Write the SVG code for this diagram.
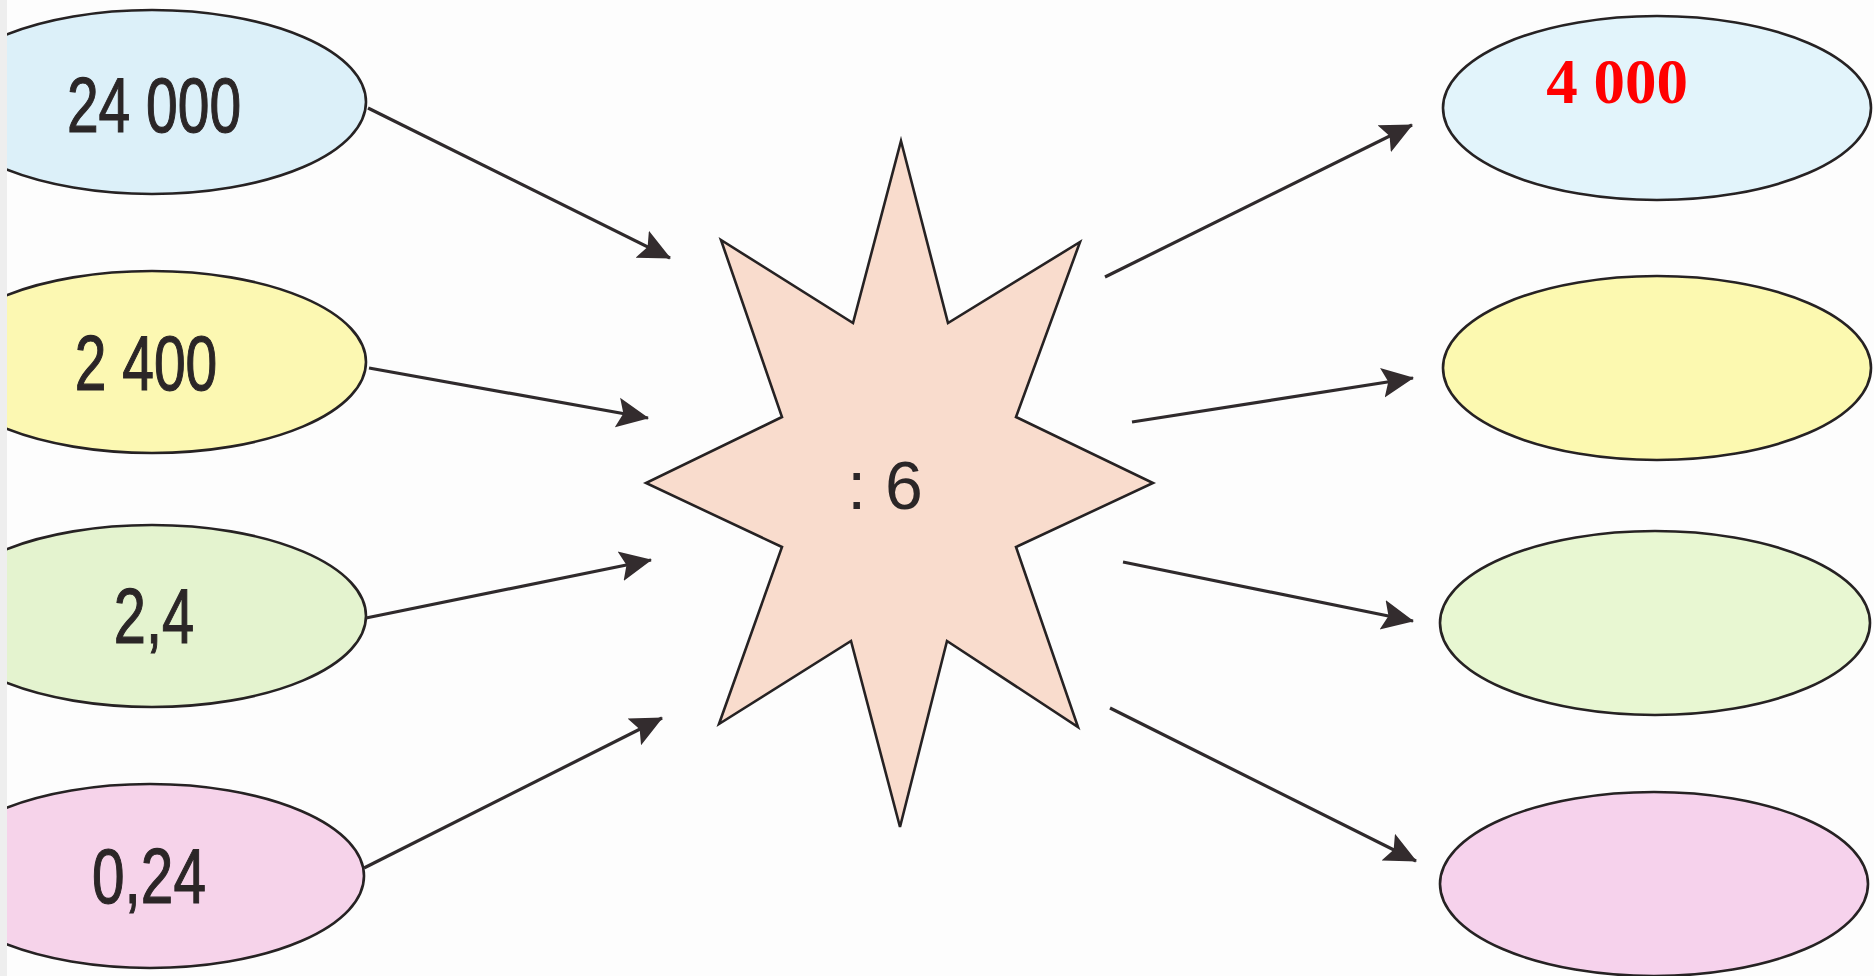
<svg xmlns="http://www.w3.org/2000/svg" width="1874" height="976" viewBox="0 0 1874 976">
<defs>
<style>
.ell{stroke:#262223;stroke-width:2.6}
.lbl{font-family:"Liberation Sans",Arial,sans-serif;font-size:77px;fill:#2b2627;stroke:#2b2627;stroke-width:1.2;text-anchor:middle}
.conn line{stroke:#2f2a2c;stroke-width:3.2;marker-end:url(#ah)}
</style>
<marker id="ah" markerUnits="userSpaceOnUse" markerWidth="32" markerHeight="32" viewBox="0 0 32 32" refX="31" refY="16" orient="auto">
<path d="M0,1 L32,16 L0,31 L6,16 Z" fill="#332c2e"/>
</marker>
<clipPath id="page"><rect x="7" y="0" width="1867" height="976"/></clipPath>
</defs>
<rect x="0" y="0" width="1874" height="976" fill="#fdfdfd"/>
<rect x="0" y="0" width="7" height="976" fill="#eeeeee"/>
<g clip-path="url(#page)">
<g id="in1"><ellipse class="ell" cx="152" cy="102" rx="214" ry="92" fill="#dcf0f9"/><text class="lbl" transform="translate(154,132) scale(0.74,1)">24 000</text></g>
<g id="in2"><ellipse class="ell" cx="152" cy="362" rx="214" ry="91" fill="#fcf8b2"/><text class="lbl" transform="translate(146,390) scale(0.74,1)">2 400</text></g>
<g id="in3"><ellipse class="ell" cx="152" cy="616" rx="214" ry="91" fill="#e4f3cf"/><text class="lbl" transform="translate(154,643) scale(0.75,1)">2,4</text></g>
<g id="in4"><ellipse class="ell" cx="150" cy="876" rx="214" ry="92" fill="#f6d3ea"/><text class="lbl" transform="translate(149,903) scale(0.76,1)">0,24</text></g>
</g>
<g id="star">
<polygon points="901,141 948,323 1080,242 1016,417 1153,483 1016,547 1078,727 947,641 900,827 851,641 719,724 782,547 646,483 782,417 721,240 853,323" fill="#f9dccd" stroke="#262223" stroke-width="2.6" stroke-linejoin="miter"/>
<text x="885" y="509" style="font-family:'Liberation Sans',Arial,sans-serif;font-size:68px;fill:#2b2627;text-anchor:middle">: 6</text>
</g>
<g id="out1"><ellipse class="ell" cx="1657" cy="108" rx="214" ry="92" fill="#e2f4fb"/><text x="1617" y="103" style="font-family:'Liberation Serif','Times New Roman',serif;font-weight:bold;font-size:63px;fill:#ff0000;text-anchor:middle">4 000</text></g>
<g id="out2"><ellipse class="ell" cx="1657" cy="368" rx="214" ry="92" fill="#fcf9b0"/></g>
<g id="out3"><ellipse class="ell" cx="1655" cy="623" rx="215" ry="92" fill="#e8f7d2"/></g>
<g id="out4"><ellipse class="ell" cx="1654" cy="884" rx="214" ry="92" fill="#f6d2ec"/></g>
<g class="conn" id="connectors">
<line x1="368" y1="108" x2="670" y2="258"/>
<line x1="369" y1="368" x2="648" y2="418"/>
<line x1="366" y1="618" x2="651" y2="560"/>
<line x1="364" y1="868" x2="662" y2="718"/>
<line x1="1105" y1="277" x2="1412" y2="125"/>
<line x1="1132" y1="422" x2="1413" y2="378"/>
<line x1="1123" y1="562" x2="1413" y2="621"/>
<line x1="1110" y1="708" x2="1416" y2="861"/>
</g>
</svg>
